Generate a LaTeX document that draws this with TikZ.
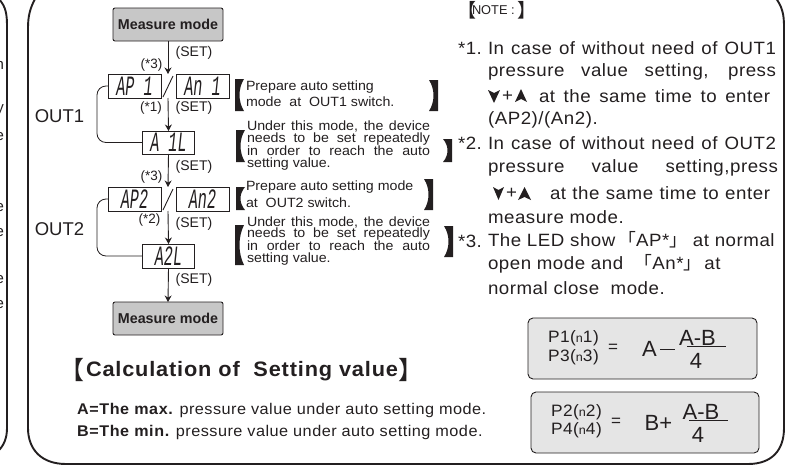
\documentclass[tikz,border=0pt]{standalone}
\usepackage{fontspec}
\setmainfont{Liberation Sans}
\newfontfamily\cjk{Noto Sans CJK SC}
\newfontfamily\wide[LetterSpace=3,FakeStretch=1.05]{Liberation Sans}
\newfontfamily\widebf[LetterSpace=4,FakeStretch=1.04]{Liberation Sans Bold}
\newfontfamily\stepfont[FakeStretch=1.06]{Liberation Sans}
\newfontfamily\seg[FakeStretch=.54]{Liberation Mono Italic}
\newcommand{\pnfont}{\fontsize{12}{13}\selectfont}
\definecolor{ink}{HTML}{231F20}
\newcommand{\lbrk}[3]{\fill[ink] (#1,#2) -- (#1+9,#2) .. controls (#1+3,#2+.3*#3-.3*#2) and (#1+3,#2+.7*#3-.7*#2) .. (#1+9,#3) -- (#1,#3) -- cycle;}
\newcommand{\rbrk}[3]{\fill[ink] (#1,#2) -- (#1-9,#2) .. controls (#1-3,#2+.3*#3-.3*#2) and (#1-3,#2+.7*#3-.7*#2) .. (#1-9,#3) -- (#1,#3) -- cycle;}
\tikzset{x=1pt,y=-1pt,
 every node/.style={text=ink,inner sep=0pt,outer sep=0pt},
 modebox/.style={draw=ink,fill=black!22,rounded corners=2pt,line width=.9pt,minimum width=110pt,minimum height=33pt,font=\fontsize{14.3}{15}\bfseries},
 lcd/.style={draw=ink,fill=white,line width=.9pt,minimum width=53pt,minimum height=24pt,font=\fontsize{28}{28}\seg},
 flow/.style={draw=ink,line width=.9pt,-{Stealth[length=6.5pt,width=7pt]}},
 loopline/.style={draw=ink,line width=.8pt,rounded corners=9pt},
 lab/.style={font=\fontsize{14}{15}\selectfont},
 star/.style={font=\fontsize{13.5}{14}\selectfont},
 outl/.style={font=\fontsize{18.5}{20}\selectfont},
 stepl/.style={anchor=west,font=\fontsize{13.4}{14}\stepfont},
 note/.style={anchor=west,font=\fontsize{17.8}{19}\wide},
 panel/.style={draw=ink,line width=1.9pt},
 fbox/.style={draw=ink,fill=black!10,line width=.9pt,rounded corners=5pt},
 pf/.style={anchor=west,font=\fontsize{16.5}{17}\wide},
 bigf/.style={font=\fontsize{22}{23}\selectfont},
 caln/.style={anchor=west,font=\fontsize{15.5}{17}\wide},
}
\usetikzlibrary{arrows.meta}
\begin{document}
\begin{tikzpicture}
\useasboundingbox (0,0) rectangle (798,466);
% left panel remains
\begin{scope}
\clip (0,0) rectangle (12,466);
\draw[panel] (-3,-3) .. controls (4,4) and (7,10) .. (7,25) -- (7,428) .. controls (7,438) and (4,446) .. (-3,452);
\foreach \yy/\cc in {65/n,110/y,137/e,208/e,233/e,280/e,305/e}
  \node[anchor=east,font=\fontsize{15}{16}\selectfont] at (4,\yy) {\cc};
\end{scope}
% main panel
\draw[panel] (36,-3) .. controls (30,8) and (28,16) .. (28,28) -- (28,428) .. controls (28,450) and (42,464) .. (66,464) -- (748,464) .. controls (772,464) and (784,450) .. (784,428) -- (784,26) .. controls (784,14) and (782,6) .. (775,-3);
% flow
\node[modebox] (m1) at (168,24.5) {Measure mode};
\node[lcd] (ap1) at (134.5,86) {AP 1};
\node[lcd] (an1) at (202.5,86) {An 1};
\node[lcd,minimum width=52pt,minimum height=23pt] (a1l) at (168.5,142.5) {A 1L};
\node[lcd] (ap2) at (134.5,199) {AP2};
\node[lcd] (an2) at (202.5,199) {An2};
\node[lcd,minimum width=52pt,minimum height=24pt] (a2l) at (168.5,256) {A2L};
\node[modebox] (m2) at (168,318.5) {Measure mode};
\coordinate (t1) at (168,74);
\coordinate (b1) at (168,98);
\coordinate (t2) at (168,187);
\coordinate (b2) at (168,211);
\draw[flow] (m1.south) -- (t1);
\draw[flow] (b1) -- (a1l.north);
\draw[flow] (a1l.south) -- (t2);
\draw[flow] (b2) -- (a2l.north);
\draw[flow] (a2l.south) -- (m2.north);
\draw[loopline] (ap1.west) -- (97,86) -- (97,142.5) -- (a1l.west);
\draw[loopline] (ap2.west) -- (97,199) -- (97,256) -- (a2l.west);
\draw[ink,line width=.9pt] (163,97) -- (173,76);
\draw[ink,line width=.9pt] (163,210) -- (173,189);
\foreach \yy in {53,108,167,224,280} \node[lab] at (194,\yy) {(SET)};
\node[star] at (151.5,65) {(*3)};
\node[star] at (151,108) {(*1)};
\node[star] at (151.5,177) {(*3)};
\node[star] at (149.5,220) {(*2)};
\node[outl] at (59.5,116) {OUT1};
\node[outl] at (59.5,229) {OUT2};
% step texts
\lbrk{235}{79}{111}\rbrk{438}{80}{111}
\node[stepl] at (246,87) {Prepare auto setting};
\node[stepl] at (246,102) {mode\ \ at\ \ OUT1 switch.};
\lbrk{236}{130}{162}\rbrk{452}{139}{162}
\node[stepl] at (247,126.5) {\makebox[183pt][s]{Under this mode, the device}};
\node[stepl] at (247,139) {\makebox[183pt][s]{needs to be set repeatedly}};
\node[stepl] at (247,151) {\makebox[183pt][s]{in order to reach the auto}};
\node[stepl] at (247,164) {setting value.};
\lbrk{236}{187}{210}\rbrk{433}{179}{210}
\node[stepl] at (246,187) {Prepare auto setting mode};
\node[stepl] at (246,203) {at\ \ OUT2 switch.};
\lbrk{235}{225}{265}\rbrk{453}{226}{257}
\node[stepl] at (247,222) {\makebox[183pt][s]{Under this mode, the device}};
\node[stepl] at (247,234) {\makebox[183pt][s]{needs to be set repeatedly}};
\node[stepl] at (247,246) {\makebox[183pt][s]{in order to reach the auto}};
\node[stepl] at (247,259) {setting value.};
% notes
\node[font=\fontsize{19}{20}\cjk,anchor=east] at (476,10) {【};
\node[anchor=west,font=\fontsize{12.8}{14}\selectfont] at (472,10) {NOTE :};
\node[font=\fontsize{19}{20}\cjk,anchor=west] at (517,10) {】};
\node[note] at (458,48) {*1.};
\node[note] at (488,48) {\makebox[288pt][s]{In case of without need of OUT1}};
\node[note] at (488,72) {\makebox[288pt][s]{pressure value setting, press}};
\fill[ink] (488,90) -- (494,93) -- (500,90) -- (494,103) -- cycle;
\node[note] at (502,96) {+};
\fill[ink] (515,102) -- (521,99) -- (527,102) -- (521,89) -- cycle;
\node[note] at (539,96) {\makebox[231pt][s]{at the same time to enter}};
\node[note] at (488,120) {(AP2)/(An2).};
\node[note] at (458,143) {*2.};
\node[note] at (488,143) {\makebox[288pt][s]{In case of without need of OUT2}};
\node[note] at (488,168) {\makebox[290pt][s]{pressure value setting,press}};
\fill[ink] (493,187) -- (498.5,190) -- (504,187) -- (498.5,200) -- cycle;
\node[note] at (506,193) {+};
\fill[ink] (518,200) -- (524.5,197) -- (531,200) -- (524.5,187) -- cycle;
\node[note] at (550,193) {\makebox[220pt][s]{at the same time to enter}};
\node[note] at (488,217) {measure mode.};
\node[note] at (458,241) {*3.};
\node[note] at (488,240) {The LED show\,{\cjk「}AP*{\cjk」}\ at normal};
\node[note] at (488,264) {open mode and\ \ {\cjk「}An*{\cjk」}\,at};
\node[note] at (488,288) {normal close\ \ mode.};
% calc title
\node[font=\fontsize{25}{26}\cjk,anchor=east] at (84,370) {【};
\node[anchor=west,font=\fontsize{20.9}{23}\widebf] at (86,371) {Calculation of\ \ Setting value};
\node[font=\fontsize{25}{26}\cjk,anchor=west] at (398,370) {】};
\node[caln] at (77,410) {{\widebf A=The max.} pressure value under auto setting mode.};
\node[caln] at (77,432) {{\widebf B=The min.} pressure value under auto setting mode.};
% formula 1
\draw[fbox] (528,318) rectangle (757,379);
\node[pf] at (548,338) {P1({\pnfont n}1)};
\node[pf] at (548,357) {P3({\pnfont n}3)};
\node[font=\fontsize{17}{18}\selectfont] at (613,348) {=};
\node[bigf] at (649.5,349) {A};
\draw[ink,line width=1pt] (660,349) -- (675,349);
\node[bigf] at (697.5,338) {A-B};
\draw[ink,line width=1pt] (687,346) -- (726,346);
\node[bigf] at (696,361) {4};
% formula 2
\draw[fbox] (531,392) rectangle (759,453);
\node[pf] at (551,412) {P2({\pnfont n}2)};
\node[pf] at (551,430) {P4({\pnfont n}4)};
\node[font=\fontsize{17}{18}\selectfont] at (616,422) {=};
\node[bigf] at (658.5,423) {B+};
\node[bigf] at (701,412) {A-B};
\draw[ink,line width=1pt] (689,420) -- (728,420);
\node[bigf] at (698,435) {4};
\end{tikzpicture}
\end{document}
